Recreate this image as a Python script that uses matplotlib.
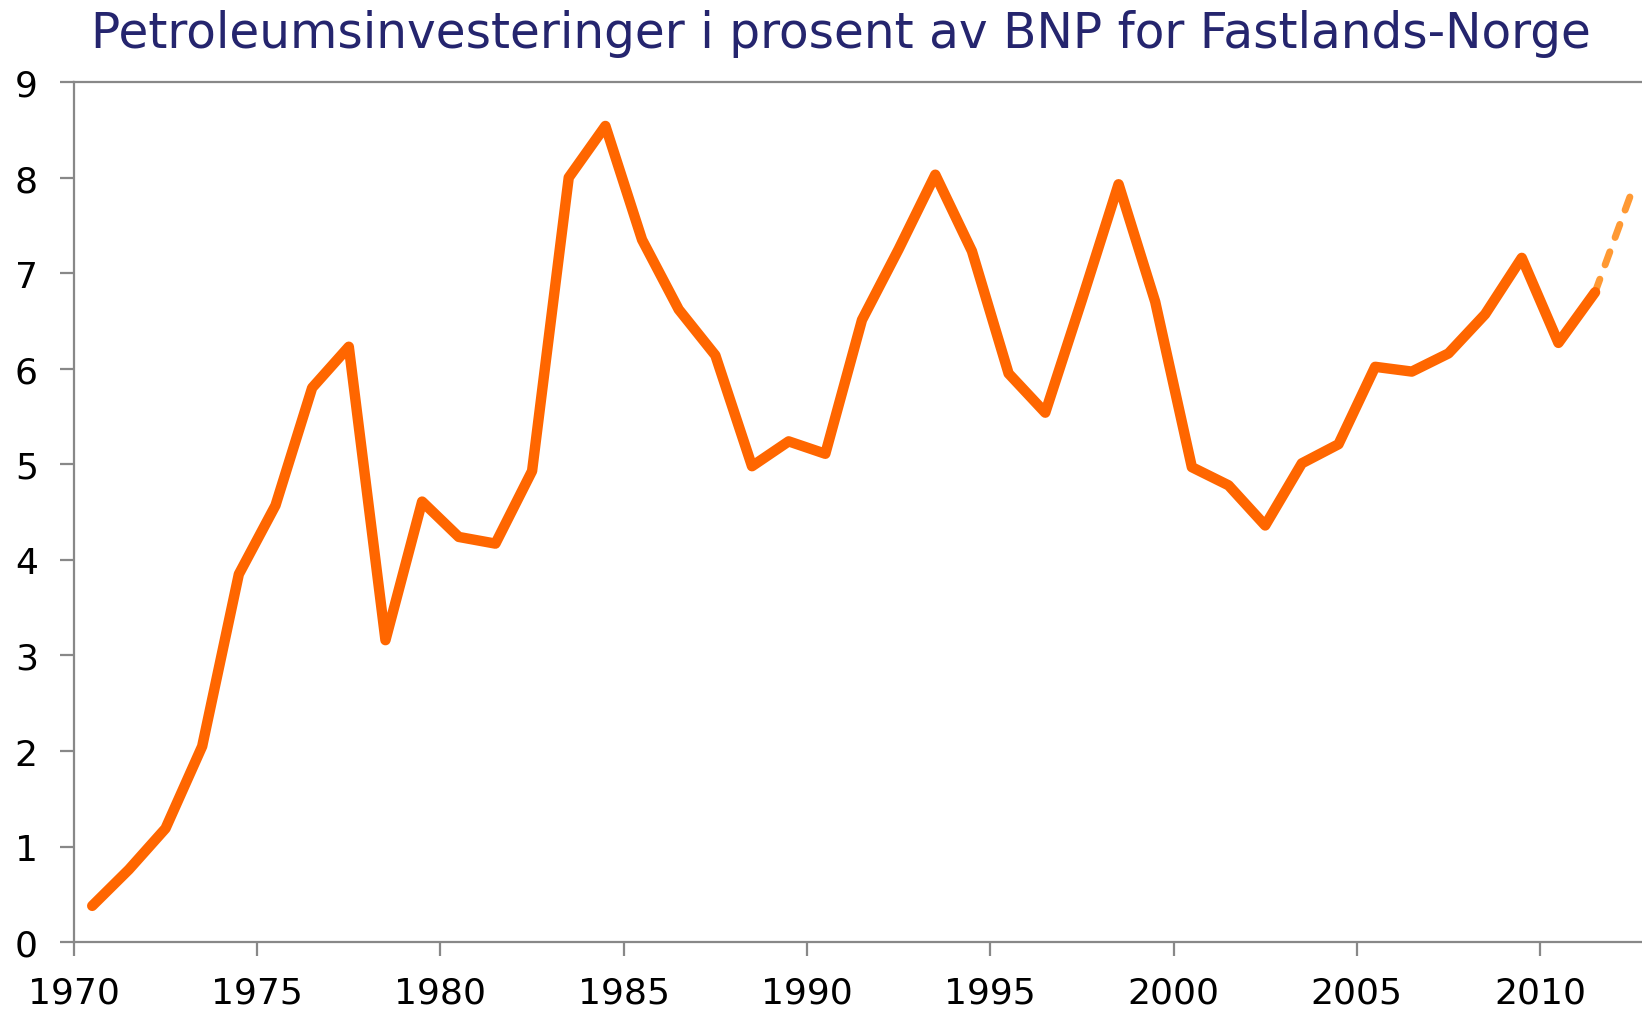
import matplotlib.pyplot as plt
import numpy as np

# Petroleumsinvesteringer, prosent av BNP Fastlands-Norge (midtår)
years = np.arange(1970, 2012) + 0.5
share = [0.38, 0.76, 1.19, 2.05, 3.85, 4.57, 5.80, 6.23, 3.16, 4.61,
         4.24, 4.17, 4.93, 8.00, 8.54, 7.35, 6.62, 6.14, 4.98, 5.24,
         5.11, 6.51, 7.25, 8.03, 7.23, 5.95, 5.54, 6.72, 7.93, 6.70,
         4.97, 4.78, 4.36, 5.01, 5.21, 6.02, 5.97, 6.16, 6.57, 7.16,
         6.27, 6.80]
# anslag
proj_years = [2011.5, 2012.5]
proj_share = [6.80, 7.85]

xticks = [1970, 1975, 1980, 1985, 1990, 1995, 2000, 2005, 2010]
yticks = list(range(0, 10))

fig = plt.figure(figsize=(16.42, 10.12), dpi=100)
ax = fig.add_axes([0.045, 0.068, 0.955, 0.850])

ax.plot(proj_years, proj_share, color="#FF9933", lw=5, ls=(0, (2, 2.2)),
        solid_capstyle="round", dash_capstyle="round", zorder=2)
ax.plot(years, share, color="#FF6600", lw=7.5, solid_capstyle="round",
        solid_joinstyle="round", zorder=3)

ax.set_xlim(1970, 2012.78)
ax.set_ylim(0, 9)
ax.set_xticks(xticks)
ax.set_yticks(yticks)

gray = "#888888"
for side in ["left", "bottom", "top"]:
    ax.spines[side].set_color(gray)
    ax.spines[side].set_linewidth(1.6)
ax.spines["right"].set_visible(False)
ax.tick_params(axis="both", direction="out", length=10, width=1.6, color=gray,
               labelsize=26, labelcolor="black")
ax.tick_params(axis="x", pad=14)
ax.tick_params(axis="y", pad=16)

fig.text(0.512, 0.966, "Petroleumsinvesteringer i prosent av BNP for Fastlands-Norge",
         ha="center", va="center", fontsize=35, color="#25256E")

fig.savefig("out.png", dpi=100)
